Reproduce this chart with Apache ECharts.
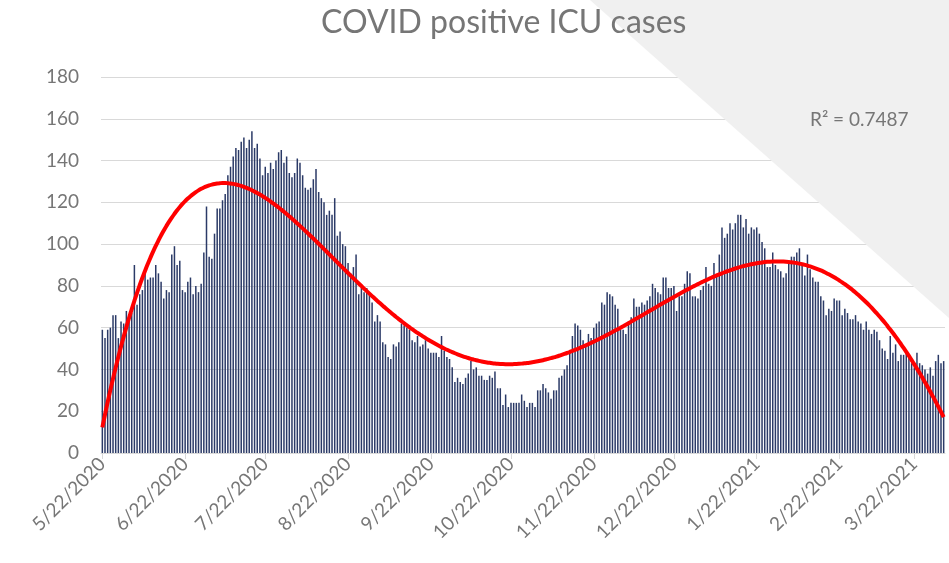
<!DOCTYPE html>
<html>
<head>
<meta charset="utf-8">
<title>COVID positive ICU cases</title>
<script src="https://cdn.jsdelivr.net/npm/echarts@6/dist/echarts.min.js"></script>
<style>
  html, body { margin: 0; padding: 0; background: #ffffff; }
  #chart { width: 949px; height: 563px; }
</style>
</head>
<body>
<div id="chart"></div>
<script>
// daily data starts here, one bar per day
const startDate = [2020, 5, 22];

// ICU cases per day (5/22/2020 .. 4/2/2021)
const icuCases = [
  59, 55, 59, 60, 66, 66, 55, 63, 62, 68, 65, 67, 90, 71, 76, 78, 86, 83, 84, 84, 90, 86, 82, 74, 78, 77, 95, 99, 90,
  92, 78, 77, 82, 84, 76, 80, 77, 81, 96, 118, 94, 93, 105, 117, 117, 121, 124, 133,
  137, 142, 146, 145, 149, 151, 146, 150, 154,
  146, 148, 141, 133, 137, 134, 139, 136, 140, 144, 145, 139, 142, 134, 132, 134, 141, 139, 133, 127, 126, 127, 131, 136, 125, 122, 120, 114, 116, 114,
  122, 104, 106, 100, 99, 91, 86, 89, 95, 76, 79, 77, 79, 76, 72, 63, 66, 63, 53, 52, 46, 45, 52, 51, 53, 62, 61, 60, 59,
  54, 53, 56, 51, 52, 54, 50, 48, 48, 48, 46, 56, 49, 46, 45, 41, 34, 36, 34, 33, 36, 38, 44, 40, 41, 37, 37, 35, 35, 37,
  36, 39, 31, 31, 23, 28, 22, 24, 24, 24, 24, 28, 25, 22, 24, 24, 22, 30, 30, 33, 31, 29, 26, 30, 30, 36, 37, 40,
  42,
  49, 56, 62, 61, 59, 54, 52, 57, 55, 60, 62, 63, 72, 71, 77, 76, 75, 71, 69, 59, 59, 57, 63, 65, 74, 70, 70, 72,
  71, 73, 75, 81, 79, 77, 76, 84, 84, 79, 79, 80, 68, 75, 75, 81, 87, 86, 75, 75, 74, 78, 80, 89, 81, 80, 91, 85, 95, 108,
  103, 105, 110, 107, 110, 114, 114, 108, 112, 105, 108, 107, 108, 105, 101, 98, 89, 89, 96, 90, 88, 87, 84, 86, 92, 94, 94, 96, 98,
  91,
  85, 95, 88, 84, 82, 82, 75, 73, 66, 69, 68, 74, 73, 73, 66, 69, 67, 64, 64, 66, 63, 62, 59, 63, 59, 57, 59, 58, 54,
  50, 49, 45, 56, 48, 52, 44, 47, 47, 48, 47, 43, 41, 48, 43, 42, 40, 38, 41, 37, 44, 47, 43, 44
];

const yTicks = [0, 20, 40, 60, 80, 100, 120, 140, 160, 180];
const trendOrder = 5;
const rSquaredText = 'R² = 0.7487';

// dates as m/d/yyyy, like the sheet
const dates = [];
for (let i = 0; i < icuCases.length; i++) {
  const d = new Date(startDate[0], startDate[1] - 1, startDate[2] + i);
  dates.push((d.getMonth() + 1) + '/' + d.getDate() + '/' + d.getFullYear());
}

// least squares polynomial trendline (like excel's)
function polyFit(ys, order) {
  const n = ys.length;
  const m = order + 1;
  const xs = ys.map((_, i) => i / (n - 1));
  const A = [];
  for (let r = 0; r < m; r++) A.push(new Array(m + 1).fill(0));
  for (let k = 0; k < n; k++) {
    const p = [];
    let v = 1;
    for (let j = 0; j < 2 * m; j++) { p.push(v); v *= xs[k]; }
    for (let r = 0; r < m; r++) {
      for (let c = 0; c < m; c++) A[r][c] += p[r + c];
      A[r][m] += p[r] * ys[k];
    }
  }
  for (let c = 0; c < m; c++) {
    let piv = c;
    for (let r = c + 1; r < m; r++) if (Math.abs(A[r][c]) > Math.abs(A[piv][c])) piv = r;
    [A[c], A[piv]] = [A[piv], A[c]];
    for (let r = 0; r < m; r++) {
      if (r === c) continue;
      const f = A[r][c] / A[c][c];
      for (let k = c; k <= m; k++) A[r][k] -= f * A[c][k];
    }
  }
  const coef = A.map((row, r) => row[m] / row[r]);
  return xs.map(x => {
    let s = 0, v = 1;
    for (let j = 0; j < m; j++) { s += coef[j] * v; v *= x; }
    return s;
  });
}

const trend = polyFit(icuCases, trendOrder);

const textColor = '#767676';
const isLabelDay = (idx, val) => val.split('/')[1] === '22';

const chart = echarts.init(document.getElementById('chart'));
chart.setOption({
  backgroundColor: '#ffffff',
  animation: false,
  title: {
    text: 'COVID positive ICU cases',
    left: 316,
    top: 2,
    textStyle: { fontFamily: 'Lato', fontSize: 32, fontWeight: 'normal', color: textColor }
  },
  graphic: [
    {
      // grey slide decoration in the top right corner
      type: 'polygon',
      z: 3,
      silent: true,
      shape: { points: [[590, 0], [949, 0], [949, 318]] },
      style: { fill: '#f0f0f0' }
    },
    {
      type: 'text',
      left: 810,
      top: 110,
      z: 4,
      style: { text: rSquaredText, fontFamily: 'Lato', fontSize: 19, fill: textColor }
    }
  ],
  grid: { left: 101, right: 4, top: 77, bottom: 110 },
  xAxis: {
    type: 'category',
    data: dates,
    boundaryGap: true,
    axisLine: { lineStyle: { color: '#d9d9d9', width: 1 } },
    axisTick: { show: true, alignWithLabel: true, interval: isLabelDay, length: 6, lineStyle: { color: '#d9d9d9' } },
    axisLabel: {
      interval: isLabelDay,
      rotate: 45,
      margin: 8,
      fontFamily: 'Lato',
      fontSize: 19,
      color: textColor
    }
  },
  yAxis: {
    type: 'value',
    min: yTicks[0],
    max: yTicks[yTicks.length - 1],
    interval: yTicks[1] - yTicks[0],
    axisLine: { show: false },
    axisTick: { show: false },
    axisLabel: { margin: 22, fontFamily: 'Lato', fontSize: 19, color: textColor },
    splitLine: { lineStyle: { color: '#d9d9d9', width: 1 } }
  },
  series: [
    {
      type: 'bar',
      data: icuCases,
      barWidth: 1.5,
      itemStyle: { color: '#2b3a67' }
    },
    {
      type: 'line',
      data: trend,
      symbol: 'none',
      smooth: true,
      z: 5,
      lineStyle: { color: '#ff0000', width: 4 }
    }
  ]
});
</script>
</body>
</html>
